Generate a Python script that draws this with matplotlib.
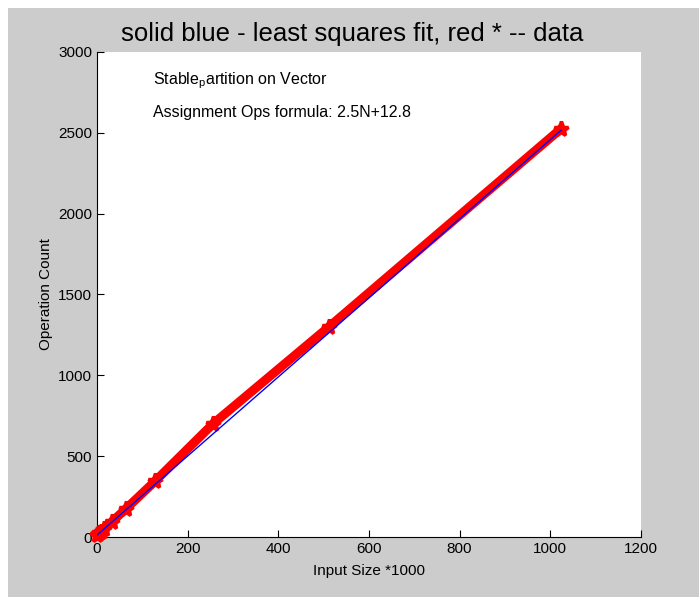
import matplotlib.pyplot as plt
from matplotlib.patches import Rectangle

plt.rcParams['font.family'] = ['Liberation Sans', 'DejaVu Sans']

# data
n = [1, 2, 4, 8, 16, 32, 64, 128, 256, 512, 1024]
ops = [14, 17, 22, 32, 52, 92, 175, 345, 700, 1300, 2525]
# least squares line end points
fit_x = [0, 1024]
fit_y = [12, 2515]

fig = plt.figure(figsize=(6.99, 5.99), dpi=100, facecolor='white')
fig.patches.append(Rectangle((0.0114, 0.003), 0.99, 0.983, transform=fig.transFigure,
                             facecolor='#cccccc', edgecolor='none', zorder=-10))

ax = fig.add_axes([0.1388, 0.1035, 0.778, 0.81])
ax.set_facecolor('white')

ax.plot(n, ops, 'r-', linewidth=6.5, clip_on=False, zorder=2)
ax.plot(n, ops, 'r*', markersize=11, markeredgewidth=2.5, clip_on=False, zorder=3)
ax.plot(fit_x, fit_y, 'b-', linewidth=1, zorder=4)

ax.set_xlim(0, 1200)
ax.set_ylim(0, 3000)
ax.set_xticks([0, 200, 400, 600, 800, 1000, 1200])
ax.set_yticks([0, 500, 1000, 1500, 2000, 2500, 3000])
ax.tick_params(direction='in', length=5, labelsize=11, colors='black')
ax.spines['top'].set_visible(False)
ax.spines['right'].set_visible(False)

ax.set_xlabel('Input Size *1000', fontsize=11, labelpad=6)
ax.set_ylabel('Operation Count', fontsize=11, labelpad=4)
ax.set_title('solid blue - least squares fit, red * -- data', fontsize=18.5, pad=8, x=0.47)

ax.text(0.103, 0.94, 'Stable$_\\mathregular{p}$artition on Vector', transform=ax.transAxes,
        fontsize=11.5, va='center')
ax.text(0.103, 0.874, 'Assignment Ops formula: 2.5N+12.8', transform=ax.transAxes,
        fontsize=11.5, va='center')

fig.savefig('out.png', dpi=100, facecolor='white')
